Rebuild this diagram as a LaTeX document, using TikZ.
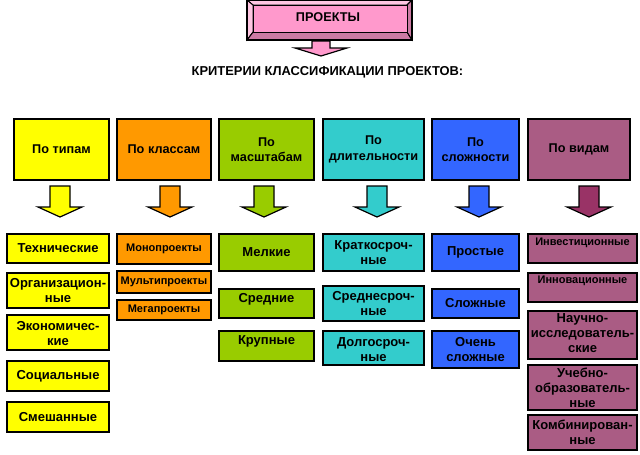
\documentclass[tikz,border=0pt]{standalone}
\usepackage{fontspec}
\setmainfont{Liberation Sans}
\definecolor{cpink}{HTML}{FF99CC}
\definecolor{cpinkL}{HTML}{FFC6E2}
\definecolor{cpinkD}{HTML}{CC7AA3}
\definecolor{cyel}{HTML}{FFFF00}
\definecolor{corg}{HTML}{FF9900}
\definecolor{cgrn}{HTML}{99CC00}
\definecolor{ccyn}{HTML}{33CCCC}
\definecolor{cblu}{HTML}{3366FF}
\definecolor{cmau}{HTML}{AA5C84}
\definecolor{cmauD}{HTML}{993366}
\tikzset{
  box/.style={draw=black, line width=2pt, inner sep=0pt},
  txt/.style={font=\fontsize{13}{15}\selectfont\bfseries, align=center, inner sep=0pt},
  stxt/.style={font=\fontsize{11}{13}\selectfont\bfseries, align=center, inner sep=0pt},
  htxt/.style={font=\fontsize{12.7}{15.5}\selectfont\bfseries, align=center, inner sep=0pt},
  ttxt/.style={font=\fontsize{12.7}{14}\selectfont\bfseries, inner sep=0pt},
  tititxt/.style={font=\fontsize{12.9}{14}\selectfont\bfseries, inner sep=0pt},
  barrow/.style={draw=black, line width=1.2pt, line join=miter},
  bevel/.style={draw=black, line width=0.8pt, line join=miter},
}
% name, fill, x1, y1, x2, y2, text style, dy, text
\newcommand\bx[9]{%
  \node[box, fill=#2, minimum width={#5-#3-2}, minimum height={#6-#4-2}, anchor=north west] (#1) at ({#3+1},{#4+1}) {};
  \node[#7] (#1t) at ([yshift={-1*(#8)}]#1.center) {#9};}
% cx, ytop, ybase, ytip, shaft half width, head half width, fill
\newcommand\darr[7]{%
  \draw[barrow, fill=#7] ({#1-#5},#2) -- ({#1+#5},#2) -- ({#1+#5},#3) -- ({#1+#6},#3) -- (#1,#4) -- ({#1-#6},#3) -- ({#1-#5},#3) -- cycle;}
\begin{document}
\begin{tikzpicture}[x=1pt,y=-1pt]
\useasboundingbox (0,0) rectangle (640,455);
\fill[white] (0,0) rectangle (640,455);
% top bevelled box
\fill[bevel, fill=cpinkL] (247,0) -- (412,0) -- (407,5) -- (253,5) -- cycle;
\fill[bevel, fill=cpinkL] (247,0) -- (253,5) -- (253,32) -- (247,40) -- cycle;
\fill[bevel, fill=cpinkD] (247,40) -- (253,32) -- (407,32) -- (412,40) -- cycle;
\fill[bevel, fill=cpinkD] (412,0) -- (412,40) -- (407,32) -- (407,5) -- cycle;
\draw[bevel] (247,0) -- (253,5) (412,0) -- (407,5) (247,40) -- (253,32) (412,40) -- (407,32);
\node[bevel, fill=cpink, minimum width=154, minimum height=27, anchor=north west, inner sep=0pt] (top) at (253,5) {};
\node[ttxt] (topt) at (328,17) {ПРОЕКТЫ};
\draw[black, line width=2pt] (247,0) rectangle (412,40);
\darr{321}{41}{48}{56}{9}{26}{cpink}
\node[tititxt] (title) at (327.5,72) {КРИТЕРИИ КЛАССИФИКАЦИИ ПРОЕКТОВ:};
% header boxes
\bx{h1}{cyel}{12}{117}{109}{180}{htxt}{0}{По типам}
\bx{h2}{corg}{115}{117}{211}{180}{htxt}{0}{По классам}
\bx{h3}{cgrn}{217}{117}{314}{180}{htxt}{0}{По\\масштабам}
\bx{h4}{ccyn}{321}{117}{424}{180}{htxt}{0}{По\\длительности}
\bx{h5}{cblu}{430}{117}{519}{180}{htxt}{0}{По\\сложности}
\bx{h6}{cmau}{526}{117}{630}{180}{htxt}{0}{По видам}
% arrows
\darr{60}{186}{207}{217}{10}{22}{cyel}
\darr{170}{186}{207}{217}{10}{22}{corg}
\darr{264}{186}{207}{217}{10}{22}{cgrn}
\darr{377}{186}{207}{217}{10}{22}{ccyn}
\darr{479}{186}{207}{217}{10}{22}{cblu}
\darr{589}{186}{207}{217}{10}{22}{cmauD}
% yellow
\bx{a1}{cyel}{5}{232}{109}{263}{txt}{0}{Технические}
\bx{a2}{cyel}{5}{271}{109}{308}{txt}{0}{Организацион-\\ные}
\bx{a3}{cyel}{5}{313}{109}{350}{txt}{1.5}{Экономичес-\\кие}
\bx{a4}{cyel}{5}{359}{109}{391}{txt}{0}{Социальные}
\bx{a5}{cyel}{5}{400}{109}{432}{txt}{0}{Смешанные}
% orange
\bx{b1}{corg}{115}{232}{211}{264}{stxt}{0}{Монопроекты}
\bx{b2}{corg}{115}{269}{211}{293}{stxt}{0}{Мультипроекты}
\bx{b3}{corg}{115}{298}{211}{320}{stxt}{0}{Мегапроекты}
% green
\bx{c1}{cgrn}{217}{232}{314}{271}{txt}{0}{Мелкие}
\bx{c2}{cgrn}{217}{287}{314}{318}{txt}{-4.5}{Средние}
\bx{c3}{cgrn}{217}{329}{314}{361}{txt}{-5}{Крупные}
% cyan
\bx{d1}{ccyn}{321}{232}{424}{271}{txt}{0}{Краткосроч-\\ные}
\bx{d2}{ccyn}{321}{284}{424}{321}{txt}{0}{Среднесроч-\\ные}
\bx{d3}{ccyn}{321}{329}{424}{365}{txt}{2}{Долгосроч-\\ные}
% blue
\bx{e1}{cblu}{430}{232}{519}{271}{txt}{0}{Простые}
\bx{e2}{cblu}{430}{287}{519}{318}{txt}{0}{Сложные}
\bx{e3}{cblu}{430}{329}{519}{368}{txt}{0}{Очень\\сложные}
% mauve
\bx{f1}{cmau}{526}{232}{637}{263}{stxt}{-5.5}{Инвестиционные}
\bx{f2}{cmau}{526}{271}{637}{302}{stxt}{-6.5}{Инновационные}
\bx{f3}{cmau}{526}{309}{637}{359}{txt}{-2}{Научно-\\исследователь-\\ские}
\bx{f4}{cmau}{526}{363}{637}{410}{txt}{0}{Учебно-\\образователь-\\ные}
\bx{f5}{cmau}{526}{413}{637}{450}{txt}{0}{Комбинирован-\\ные}
\end{tikzpicture}
\end{document}
